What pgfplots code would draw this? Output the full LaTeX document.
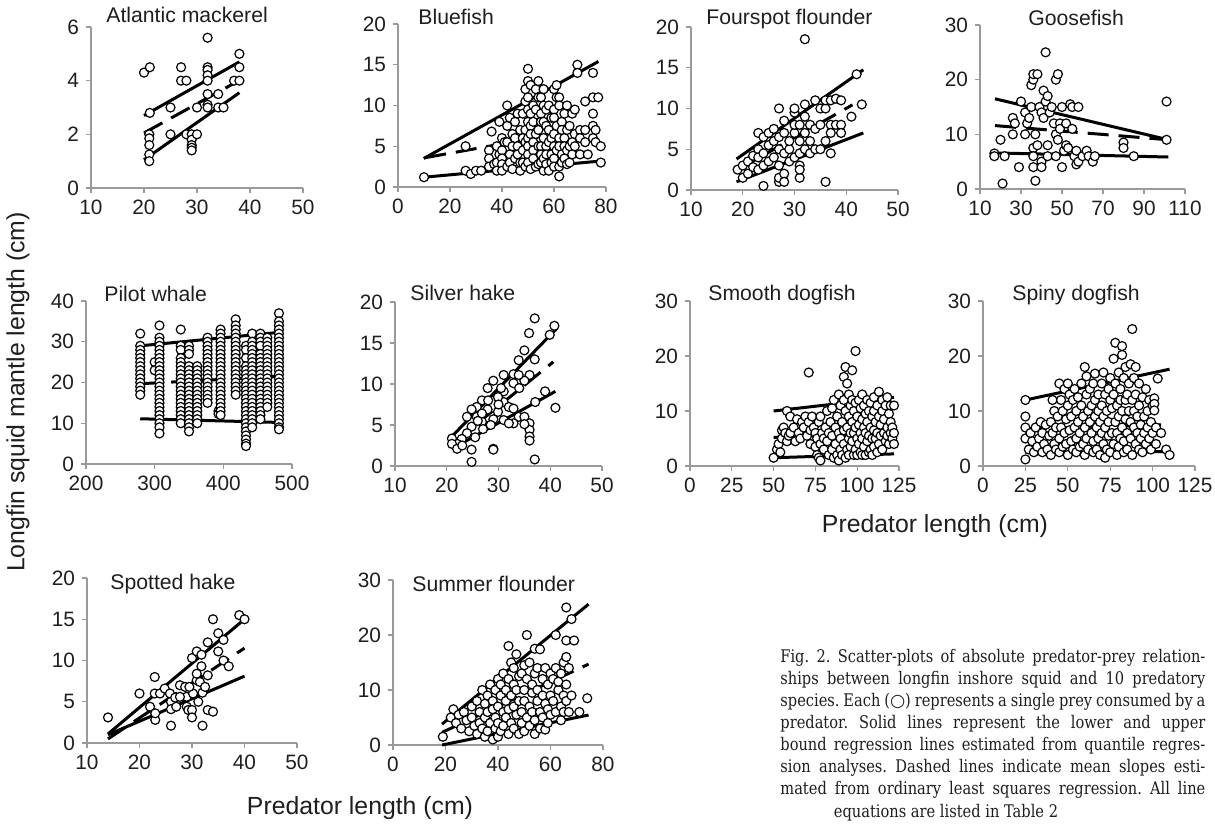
\documentclass[border=0pt]{standalone}
\usepackage{fontspec}
\setmainfont{Liberation Sans}
\newfontfamily\capfont[FakeStretch=0.84]{DejaVu Serif}
\newfontfamily\symfont{DejaVu Sans}
\usepackage{pgfplots}
\pgfplotsset{compat=1.18}
\definecolor{axgray}{HTML}{9A9A9A}
\definecolor{txt}{HTML}{1E1E1E}
\pgfplotsset{
  pan/.style={scale only axis, axis lines=left,
    axis line style={-, draw=axgray, line width=0.6pt},
    tick style={draw=axgray, line width=0.6pt},
    major tick length=2.5pt, tick align=outside,
    enlargelimits=false, clip=false,
    ticklabel style={font=\fontsize{10.4}{10.4}\selectfont, text=txt},
    /pgf/number format/assume math mode=true},
  pts/.style={only marks, mark=*, mark size=2.25pt,
    mark options={fill=white, draw=black, line width=0.6pt}},
  ql/.style={no marks, black, line width=1.5pt},
  ols/.style={no marks, black, line width=1.5pt, dash pattern=on 10.5pt off 5pt},
}
\tikzset{ttl/.style={anchor=base west, inner sep=0pt, font=\fontsize{10.6}{10.6}\selectfont, text=txt}}
\begin{document}
\begin{tikzpicture}
\useasboundingbox (0,0) rectangle (607.5pt,413pt);
% ---------------- Atlantic mackerel
\begin{axis}[pan, at={(45.5pt,319pt)}, anchor=south west, width=106pt, height=80.5pt,
  xmin=10, xmax=50, ymin=0, ymax=6, xtick={10,20,30,40,50}, ytick={0,2,4,6}]
\addplot[pts] coordinates {(20,4.3)(21.1,4.5)(21.1,2.8)(21,2.0)(21,1.85)(21,1.6)(21,1.25)(21,1.0)
(25,3.0)(25,2.0)(27,4.5)(27,4.0)(28,4.0)(28,2.0)(29,2.0)(29,1.8)(29,1.6)(29,1.5)(29,1.4)
(30,2.0)(30,3.0)(32,5.6)(32,4.5)(32,4.4)(32,4.2)(32,4.0)(32,3.5)(32,3.1)(32,3.0)
(34,3.5)(34,3.0)(35,3.0)(37,4.0)(38,5.0)(38,4.5)(38,4.0)};
\addplot[ql] coordinates {(20,2.7)(38,4.7)};
\addplot[ql] coordinates {(20,1.05)(38,3.55)};
\addplot[ols] coordinates {(20,2.05)(36.8,3.88)};
\end{axis}
% ---------------- Bluefish
\begin{axis}[pan, at={(199pt,319.5pt)}, anchor=south west, width=104pt, height=81.5pt,
  xmin=0, xmax=80, ymin=0, ymax=20, xtick={0,20,40,60,80}, ytick={0,5,10,15,20}]
\addplot[pts] table {
10 1.2
26 5
26 2
28 1.6
30 2
32 2
35 4.5
35 3.5
35 2.5
36 6.8
37 2.8
38 5
38 3
38 2
39 8
39 4
40 6
40 4.5
40 3.5
40 2.8
40 2
41 5.5
42 10
42 7.5
42 5.5
42 2.5
43 4
43 3
43 8.5
44 6.5
44 5
44 2.2
45 6
45 3.5
45 8
46 9
46 5
46 4
47 2
47 7
47 3
48 4.5
48 3
48 6
48 9
49 12
49 10.5
49 7
49 5.5
49 2.5
50 14.5
50 13
50 11
50 9.5
50 8
50 6
50 5
50 4
50 3
51 12.5
51 9
51 7.5
51 6.5
51 2.2
52 10
52 8
52 5.5
52 4.5
52 3.5
53 12
53 9.5
53 6.5
53 2.5
54 13
54 11
54 7
54 5
54 2.8
55 11
55 9
55 8
55 5
55 4
55 3
56 12
56 10
56 8
56 6
56 3.5
56 2
57 9.5
57 7.5
57 5
57 4
57 2.8
58 10
58 7
58 5.5
58 2
59 8.5
59 6
59 4
59 3
60 12
60 9.5
60 8.5
60 6.5
60 5
60 3.5
60 2.5
61 12.5
61 11
61 7.5
61 4.5
62 11
62 10
62 6
62 5
62 2.5
62 1.3
63 8
63 7
63 4
63 3
64 9
64 6
64 5
64 3.5
65 10
65 7
65 4.5
65 2.8
66 7.5
66 5
66 3
67 9
67 5.5
67 4
68 9.5
68 6.5
68 5
69 15
69 14
70 7
70 6
70 4
72 10.5
72 7
72 5.5
73 4
75 14
75 11
75 9
75 7.5
75 6
76 7
76 5.5
77 11
78 5
78 3
};
\addplot[ql] coordinates {(9.9,3.5)(77.1,15.4)};
\addplot[ql] coordinates {(10,1.2)(77.1,3.16)};
\addplot[ols] coordinates {(10.5,3.6)(73.5,7.2)};
\end{axis}
% ---------------- Fourspot flounder
\begin{axis}[pan, at={(345.5pt,318pt)}, anchor=south west, width=103.5pt, height=81.5pt,
  xmin=10, xmax=50, ymin=0, ymax=20, xtick={10,20,30,40,50}, ytick={0,5,10,15,20}]
\addplot[pts] coordinates {(19,2.5)(20,1.5)(20,3)(21,2)(21,3.5)(22,4.2)(22,2.8)(23,7)(23,5)(23,4)(23,2.5)
(24,0.5)(24,6.5)(24,4.5)(24,3)(25,5.5)(25,7)(25,3.5)(26,4)(26,6)(26,7.5)(27,10)(27,5)(27,3)(27,1)(27,1.5)
(27,6.5)(28,7)(28,4.5)(28,2)(28,1)(28,8.5)(29,5)(29,6)(29,3.5)(30,9.5)(30,10)(30,7)(30,4)(30,8)(31,8)
(31,6)(31,4.5)(31,3)(31,1.5)(31,2.5)(32,18.5)(32,10.5)(32,9)(32,7)(32,5)(33,8)(33,6)(33,4.5)(34,11)
(34,7.5)(34,5)(35,10)(35,8)(35,5)(36,10)(36,11)(36,1)(36,6)(37,11)(37,8)(37,7)(37,4.5)(38,11.2)(38,8)
(39,11)(39,8)(39,7)(41,9)(42,14.2)(43,10.5)};
\addplot[ql] coordinates {(18.8,3.8)(43.3,14.75)};
\addplot[ql] coordinates {(18.8,1.0)(43.3,7.0)};
\addplot[ols] coordinates {(18.8,2.4)(41.2,10.45)};
\end{axis}
% ---------------- Goosefish
\begin{axis}[pan, at={(490pt,318.5pt)}, anchor=south west, width=102.5pt, height=82pt,
  xmin=10, xmax=110, ymin=0, ymax=30, xtick={10,30,50,70,90,110}, ytick={0,10,20,30}]
\addplot[pts] coordinates {(17,6.5)(17,6)(20,9)(21,1)(22,6)(26,13)(26,10)(27,12)(29,4)(30,16)(32,14)(32,10)
(33,12)(34,13)(35,15)(35,19)(36,20)(36,21)(36,7.5)(36,6)(36,4)(37,1.5)(37,10)(38,8)(38,21)(39,15)(40,14)
(40,5)(40,4)(41,18)(41,13)(42,25)(42,16)(43,17)(43,8)(43,6)(44,14)(45,15)(46,12)(47,10)(47,20)(47,6)
(48,21)(48,9)(49,12)(49,11)(50,15)(50,4)(51,7)(52,12)(52,8)(53,7.5)(54,15.5)(55,11)(55,15)(56,6)
(57,4.5)(57,7)(58,15)(58,5)(60,6)(62,7)(63,6)(65,5)(66,6)(80,8.5)(80,7.5)(85,6)(101,16)(101,9)};
\addplot[ql] coordinates {(17.3,16.5)(101.9,9.0)};
\addplot[ql] coordinates {(17.3,6.6)(101.9,5.85)};
\addplot[ols] coordinates {(17.3,11.6)(101.9,9.0)};
\end{axis}
% ---------------- Pilot whale
\begin{axis}[pan, at={(43pt,181pt)}, anchor=south west, width=103pt, height=81.5pt,
  xmin=200, xmax=500, ymin=0, ymax=40, xtick={200,300,400,500}, ytick={0,10,20,30,40}]
\addplot[pts] table {
279 32
279 29
279 28
279 27
279 26
279 25
279 24
279 23
279 22
279 21
279 20
279 19
279 18
279 17
300 25
300 23
307 34
307 31
307 30
307 29
307 28
307 27
307 26
307 25
307 24
307 23
307 22
307 21
307 20
307 19
307 18
307 17
307 16
307 15
307 14
307 13
307 12
307 11
307 10
307 9
307 7.5
338 33
338 29
338 28
338 26
338 25
338 24
338 23
338 22
338 21
338 20
338 19
338 18
338 17
338 16
338 15
338 14
338 13
338 12
338 11
338 10
350 29
350 28
350 27
350 24
350 23
350 22
350 21
350 20
350 19
350 18
350 17
350 16
350 15
350 14
350 13
350 12
350 11
350 10
350 9
350 8
362 24
362 23
362 22
362 21
362 20
362 19
362 18
362 17
362 16
362 15
362 14
362 13
362 12
362 11
362 10
377 31
377 30
377 29
377 28
377 27
377 26
377 25
377 24
377 23
377 22
377 21
377 20
377 19
377 18
377 17
377 16
377 15
393 13
393 12.3
396 33
396 32
396 31
396 30
396 29
396 28
396 27
396 26
396 25
396 24
396 23
396 22
396 21
396 20
396 19
396 18
396 17
396 16
396 15
396 14
396 13
396 12
418 35.5
418 34
418 33
418 32
418 31
418 30
418 29
418 28
418 27
418 26
418 25
418 24
418 23
418 22
418 21
418 20
418 19
418 18
418 17
433 29
433 28
433 26
433 24
433 23
433 22
433 21
433 20
433 19
433 18
433 17
433 16
433 15
433 14
433 13
433 12
433 11
433 10
433 9
433 8
433 7
433 6
433 5
433 4.4
442 32
442 30
442 29
442 28
442 27
442 26
442 25
442 24
442 23
442 22
442 21
442 20
442 19
442 18
442 17
442 16
442 15
442 14
442 13
442 12
442 11
442 10
442 9
454 32
454 31
454 30
454 29
454 27
454 26
454 25
454 24
454 23
454 22
454 21
454 20
454 19
454 18
454 17
454 16
454 15
454 14
454 13
454 12
454 11
464 31
464 30
464 29
464 28
464 27
464 26
464 25
464 24
464 23
464 22
464 21
464 20
464 19
464 18
464 17
464 16
464 15
464 14
481 37
481 35
481 34
481 33
481 32
481 31
481 30
481 29
481 28
481 27
481 26
481 25
481 24
481 23
481 22
481 21
481 20
481 19
481 18
481 17
481 16
481 15
481 14
481 13
481 12
481 11
481 10
481 9
481 8.5
};
\addplot[ql] coordinates {(279,29)(481,32.3)};
\addplot[ql] coordinates {(279,11.1)(481,10.2)};
\addplot[ols] coordinates {(279,19.7)(481,21.5)};
\end{axis}
% ---------------- Silver hake
\begin{axis}[pan, at={(197.5pt,180pt)}, anchor=south west, width=103.5pt, height=82pt,
  xmin=10, xmax=50, ymin=0, ymax=20, xtick={10,20,30,40,50}, ytick={0,5,10,15,20}]
\addplot[pts] coordinates {(37,18)(35.9,16.2)(40.8,17.1)(39.9,16)(35,14.1)(33.9,12.9)(37,13)(36,11.1)
(35,10.4)(32.9,11.2)(31,11.1)(29,10.4)(27.9,9.5)(31,9.1)(32.9,10.1)(33.9,11.1)(26.8,8)(25.8,7.2)
(24.8,6.9)(23.9,6)(25.8,6)(26.8,5.4)(24.8,4.8)(23.9,4.0)(22.9,3.3)(22,2.7)(21,3.35)(27.9,6.9)(29,5.7)
(29.9,6.6)(31,7.8)(31,5.6)(32,7.2)(32.9,7)(33.9,6)(32.9,5.2)(32,5.2)(35,6)(36,5.2)(36,4.4)(36,3.6)
(35,5.1)(37.1,7.8)(39,9.1)(41,7.1)(29,2.1)(29.9,8.4)(26.8,6.4)(21,2.7)(22,2.1)(24.8,2)(24.8,0.5)
(29,2)(37,0.8)(36,3.1)(25.5,3.5)(27,4.5)(28.5,5)(30,7.5)(28,8)(30.5,9.5)(34,9.5)(26,5.5)(23,2.5)};
\addplot[ql] coordinates {(20.6,3.35)(41.3,16.8)};
\addplot[ql] coordinates {(21,2.1)(41,9.1)};
\addplot[ols] coordinates {(21,2.7)(40.6,12.7)};
\end{axis}
% ---------------- Smooth dogfish
\begin{axis}[pan, at={(345pt,180pt)}, anchor=south west, width=104.5pt, height=82.5pt,
  xmin=0, xmax=125, ymin=0, ymax=30, xtick={0,25,50,75,100,125}, ytick={0,10,20,30}]
\addplot[pts] table {
50 1.5
52 3
53 4
54 2.5
55 6.5
55 5
56 7
57 6
58 10
58 4.5
59 5.5
60 9
60 6
62 7
63 4.5
64 8.5
65 6
66 5
67 8
68 7
69 9
70 5.5
71 17
71 8
72 4
72 6.5
73 9
74 7
75 3.5
75 6
76 5
76 2
77 1.5
77 8
78 1
78 4
78 9
79 6
80 5
80 3
81 7
82 10
82 4.5
83 2
83 6
84 8
85 3
85 5.5
85 10.5
86 1.5
86 12
87 7
87 4
88 2
88 9
89 13
89 6
89 1
90 5
90 3
90 11
91 8
91 2
92 16.2
92 12
92 6.5
92 4
93 18
93 10
93 1.5
94 15
94 7
94 3
95 13
95 9
95 5
95 2
96 11
96 6
96 3.5
97 17.4
97 12
97 8
97 4.5
98 10
98 6
98 2
99 20.9
99 11.5
99 7
99 3
100 9
100 5
100 2
101 12
101 7.5
101 4
102 10.5
102 6
102 2.5
103 13
103 8.5
103 5
103 2
104 11
104 7
104 3.5
105 9.5
105 6
105 2
106 12
106 8
106 4.5
107 10
107 5.5
107 2.5
108 11.5
108 7
108 3
109 9
109 5
109 2
110 12.5
110 10
110 6.5
110 3.5
111 8
111 5
112 11
112 6
112 2.5
113 13.5
113 9
113 4
114 7.5
114 5.5
115 12
115 10
115 3
116 8.5
116 6
117 11
117 4.5
118 12.5
118 7
118 5.5
119 9.5
119 4
120 8
120 6
120 11
121 5
121 7
122 6
122 4
122 11
};
\addplot[ql] coordinates {(50,10)(122,12.5)};
\addplot[ql] coordinates {(50,1.5)(122,2.2)};
\addplot[ols] coordinates {(50,5.2)(122,6.2)};
\end{axis}
% ---------------- Spiny dogfish
\begin{axis}[pan, at={(491.5pt,180pt)}, anchor=south west, width=106pt, height=82.5pt,
  xmin=0, xmax=125, ymin=0, ymax=30, xtick={0,25,50,75,100,125}, ytick={0,10,20,30}]
\addplot[pts] table {
25 1.2
25 5
25 7
25 9
25 12
27 3
28 6
29 4.5
30 2.5
31 7
32 3.5
33 5
34 8
35 2.5
35 6
36 4
37 7.5
38 3
39 5.5
40 8
40 2
41 12
41 6
42 4
42 10
43 3
43 7
44 9
45 15
45 5
45 2.5
46 12
46 7
47 3.5
47 10
48 6
48 14
49 4
49 8.5
50 11
50 2
50 15
51 6.5
51 13
52 4.5
52 9
53 3
53 12
54 7
54 14
55 5
55 10
55 2.5
56 12.5
56 8
57 3.5
57 6
58 11
58 15
59 4
59 9
60 18
60 7
60 2
61 13
61 5
61 16.3
62 10
62 3
63 8
63 14
64 6
64 11
65 2.5
65 4.5
65 15
66 16.8
66 9
66 12
67 7
67 3
68 13
68 5
68 10
69 2
69 8
70 11
70 15
70 6
71 17
71 4
71 9
72 13
72 1.5
72 7
73 10
73 3
74 14
74 5.5
74 8
75 12
75 16
75 2.5
76 6
76 10.5
77 19.5
77 4
77 13
78 22.4
78 8
78 15
79 2
79 11
79 6
80 17
80 9
80 3.5
81 12
81 5
81 14
82 20.2
82 21.8
82 7
82 10
83 2.5
83 16
83 4.5
84 12
84 8.5
84 18
85 6
85 13
85 3
86 10
86 15
87 18.5
87 5
87 8
88 24.9
88 12
88 2
89 7
89 16
89 10
90 18
90 4
90 13
91 6
91 9
92 11
92 3
92 15
93 7.5
93 5
94 12.5
94 2.5
95 9
95 6
96 14
96 4
97 10
97 7
98 5
98 12
99 8
99 3
100 11
100 6
101 12.3
101 11.3
101 10.1
102 7
102 4
103 15.9
105 6
108 3
110 2
};
\addplot[ql] coordinates {(25,12)(110,17.6)};
\addplot[ql] coordinates {(25,2.5)(108,2.6)};
\addplot[ols] coordinates {(25,6.7)(105,7.5)};
\end{axis}
% ---------------- Spotted hake
\begin{axis}[pan, at={(43.5pt,41.5pt)}, anchor=south west, width=105pt, height=82.5pt,
  xmin=10, xmax=50, ymin=0, ymax=20, xtick={10,20,30,40,50}, ytick={0,5,10,15,20}]
\addplot[pts] coordinates {(14,3.1)(20,6.0)(22,4.4)(22.9,8.0)(22.9,6)(23,2.8)(23,3.6)(23.9,6)(24.8,6.6)
(25.8,6)(26,2.1)(26,5)(26,4.1)(26.8,5.5)(27,4.4)(27.7,7.0)(28.7,6.8)(29,5.6)(29,4.4)(29.3,4)(30,4)(30,3.1)
(30,10.3)(30.2,6)(30.9,7.6)(30.9,11.1)(30.9,8.4)(31.2,5.0)(31.5,7.4)(31.8,10.7)(31.8,9.3)(32,2.1)(32,6.1)
(32.5,6.8)(33,8.2)(33,12.2)(33,4.0)(34,3.8)(34,15)(35,13.3)(35,11.1)(36,12.5)(36,10)(37,9.3)(39,15.5)
(40,15)(29.5,6.8)(27.7,5.6)};
\addplot[ql] coordinates {(14,1.1)(40,15)};
\addplot[ql] coordinates {(14,1.0)(40,8.1)};
\addplot[ols] coordinates {(14,0.5)(40,11.5)};
\end{axis}
% ---------------- Summer flounder
\begin{axis}[pan, at={(196.5pt,40.5pt)}, anchor=south west, width=105pt, height=82.5pt,
  xmin=0, xmax=80, ymin=0, ymax=30, xtick={0,20,40,60,80}, ytick={0,10,20,30}]
\addplot[pts] table {
19 1.5
22 5
23 6.5
24 4
25 5.5
26 3
27 6
28 4.5
29 2.5
30 7
30 5
31 3.5
32 8
32 2
33 6
33 4
34 10
34 3
35 7.5
35 5
35 1.5
36 9
36 2.5
36 6
37 11
37 4
38 8
38 1
38 6.5
39 10
39 3
39 5
40 12
40 7
40 1.5
40 4
41 9
41 2.5
41 11
42 6
42 13
42 3.5
43 8
43 10
43 5
44 18
44 2
44 12
44 6.5
45 15
45 4
45 9
46 11
46 7
46 3
46 14
47 16.5
47 5.5
47 10
48 8
48 2
48 12.5
49 13
49 6
49 4
50 10
50 14.5
50 8
50 2.5
51 20
51 12
51 5
52 7
52 15
52 3.5
53 9.5
53 11
53 6
54 17.5
54 13
54 4.5
54 2
55 8
55 14
55 10
56 17.4
56 6
56 3
57 12
57 9
57 5
58 14
58 7.5
58 2.8
59 11
59 6.5
59 4
60 13
60 9
60 5.5
61 8
61 12
62 20
62 14
62 6
63 10
63 11.5
64 7
64 4.5
64 13
65 15
65 9
65 6
66 25
66 19
66 16
66 11
66 8
67 14
67 6
68 22.9
68 9
69 19
71 6
74 8.5
};
\addplot[ql] coordinates {(18.7,3.8)(74.5,25.6)};
\addplot[ql] coordinates {(18.7,0)(74.5,5.45)};
\addplot[ols] coordinates {(18.7,2.3)(74.5,14.7)};
\end{axis}
% ---------------- titles
\node[ttl] at (53pt,401.5pt) {Atlantic mackerel};
\node[ttl] at (209pt,400.5pt) {Bluefish};
\node[ttl] at (353pt,400.5pt) {Fourspot flounder};
\node[ttl] at (514pt,400pt) {Goosefish};
\node[ttl] at (52pt,262pt) {Pilot whale};
\node[ttl] at (205pt,262.5pt) {Silver hake};
\node[ttl] at (354pt,262.5pt) {Smooth dogfish};
\node[ttl] at (506pt,262.5pt) {Spiny dogfish};
\node[ttl] at (55pt,118.5pt) {Spotted hake};
\node[ttl] at (206pt,117.5pt) {Summer flounder};
% ---------------- axis labels
\node[rotate=90, inner sep=0pt, font=\fontsize{12.4}{12.4}\selectfont, text=txt] at (9pt,217pt) {Longfin squid mantle length (cm)};
\node[inner sep=0pt, font=\fontsize{12.4}{12.4}\selectfont, text=txt] at (180pt,9pt) {Predator length (cm)};
\node[inner sep=0pt, font=\fontsize{12.4}{12.4}\selectfont, text=txt] at (467.5pt,150pt) {Predator length (cm)};
% ---------------- caption
\node[anchor=base west, inner sep=0pt, text width=212.5pt, align=justify,
  font=\capfont\fontsize{8.7}{11.05}\selectfont, text=txt] at (390pt,82pt)
{\frenchspacing Fig.~2. Scatter-plots of absolute predator-prey relation-\linebreak
ships between longfin inshore squid and 10 predatory\linebreak
species. Each ({\symfont ○}) represents a single prey consumed by a\linebreak
predator. Solid lines represent the lower and upper\linebreak
bound regression lines estimated from quantile regres-\linebreak
sion analyses. Dashed lines indicate mean slopes esti-\linebreak
mated from ordinary least squares regression. All line\linebreak
\mbox{}\par};
\node[anchor=base, inner sep=0pt, font=\capfont\fontsize{8.7}{11.05}\selectfont, text=txt] at (473pt,4.5pt) {equations are listed in Table 2};
\end{tikzpicture}
\end{document}
